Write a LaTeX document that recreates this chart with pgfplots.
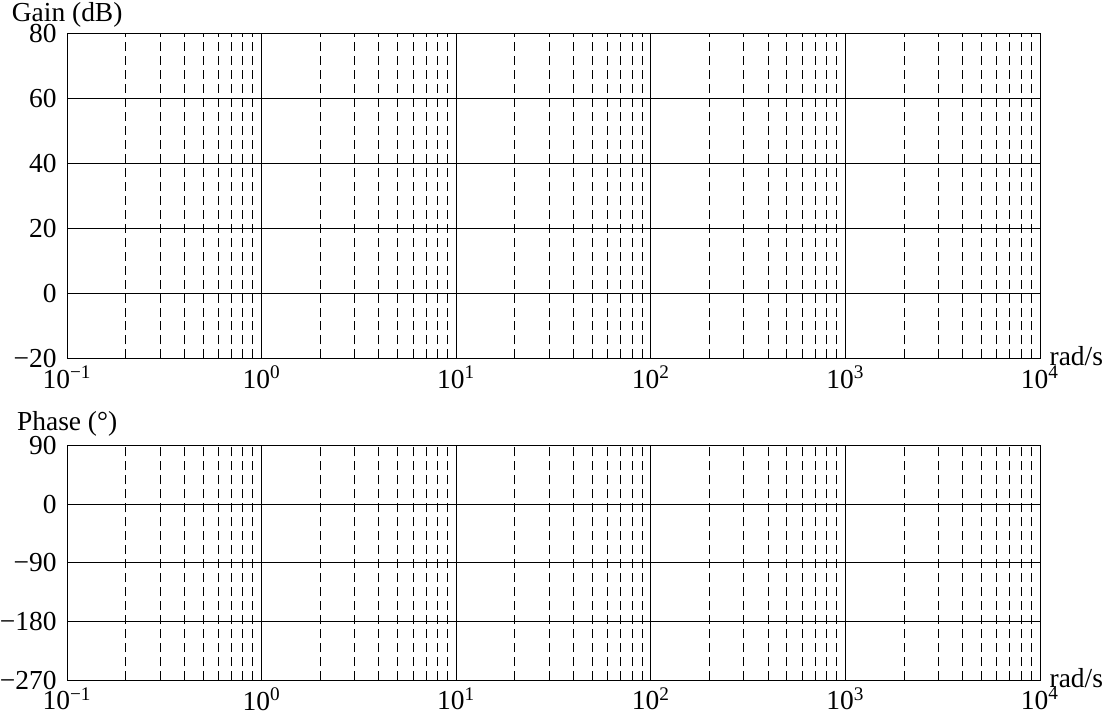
\documentclass[border=0pt]{standalone}
\usepackage{fontspec}
\setmainfont{Liberation Serif}
\usepackage{pgfplots}
\pgfplotsset{compat=1.18}
\begin{document}
\begin{tikzpicture}
\begin{axis}[
  scale only axis,
  width=389.6pt,
  height=130pt,
  xmode=log,
  xmin=0.1, xmax=10000,
  xtick={0.1,1,10,100,1000,10000},
  xticklabels={10\textsuperscript{−1},10\textsuperscript{0},10\textsuperscript{1},10\textsuperscript{2},10\textsuperscript{3},10\textsuperscript{4}},
  minor xtick={0.2,0.3,0.4,0.5,0.6,0.7,0.8,0.9,2,3,4,5,6,7,8,9,20,30,40,50,60,70,80,90,200,300,400,500,600,700,800,900,2000,3000,4000,5000,6000,7000,8000,9000},
  major tick length=0pt,
  minor tick length=0pt,
  xmajorgrids, ymajorgrids, xminorgrids,
  major grid style={black, line width=0.4pt, solid},
  minor grid style={black, line width=0.4pt, dash pattern=on 3.6pt off 2pt},
  axis line style={line width=0.4pt},
  tick label style={font=\fontsize{11}{13}\selectfont, inner sep=0pt},
  xticklabel style={yshift=-2.7pt},
  yticklabel style={xshift=-4pt},
  clip=false,
  at={(0,0)}, anchor=north west,
  ymin=-20, ymax=80,
  ytick={-20,0,20,40,60,80},
  yticklabels={−20,0,20,40,60,80},
]
\addplot[draw=none] coordinates {(1,0)};
\node[anchor=base, inner xsep=0pt, inner ysep=0.9pt, font=\fontsize{11}{13}\selectfont, yshift=5pt] at (rel axis cs:0,1) {Gain (dB)};
\node[anchor=base west, inner sep=0pt, font=\fontsize{11}{13}\selectfont, xshift=3.6pt, yshift=-2.9pt] at (rel axis cs:1,0) {rad/s};
\end{axis}
\begin{axis}[
  scale only axis,
  width=389.6pt,
  height=94pt,
  xmode=log,
  xmin=0.1, xmax=10000,
  xtick={0.1,1,10,100,1000,10000},
  xticklabels={10\textsuperscript{−1},10\textsuperscript{0},10\textsuperscript{1},10\textsuperscript{2},10\textsuperscript{3},10\textsuperscript{4}},
  minor xtick={0.2,0.3,0.4,0.5,0.6,0.7,0.8,0.9,2,3,4,5,6,7,8,9,20,30,40,50,60,70,80,90,200,300,400,500,600,700,800,900,2000,3000,4000,5000,6000,7000,8000,9000},
  major tick length=0pt,
  minor tick length=0pt,
  xmajorgrids, ymajorgrids, xminorgrids,
  major grid style={black, line width=0.4pt, solid},
  minor grid style={black, line width=0.4pt, dash pattern=on 3.6pt off 2pt},
  axis line style={line width=0.4pt},
  tick label style={font=\fontsize{11}{13}\selectfont, inner sep=0pt},
  xticklabel style={yshift=-2.7pt},
  yticklabel style={xshift=-4pt},
  clip=false,
  at={(0,-164.8pt)}, anchor=north west,
  ymin=-270, ymax=90,
  ytick={-270,-180,-90,0,90},
  yticklabels={−270,−180,−90,0,90},
]
\addplot[draw=none] coordinates {(1,0)};
\node[anchor=base, inner sep=0pt, font=\fontsize{11}{13}\selectfont, yshift=5.8pt] at (rel axis cs:0,1) {Phase (°)};
\node[anchor=base west, inner sep=0pt, font=\fontsize{11}{13}\selectfont, xshift=3.6pt, yshift=-2.9pt] at (rel axis cs:1,0) {rad/s};
\end{axis}
\end{tikzpicture}
\end{document}
